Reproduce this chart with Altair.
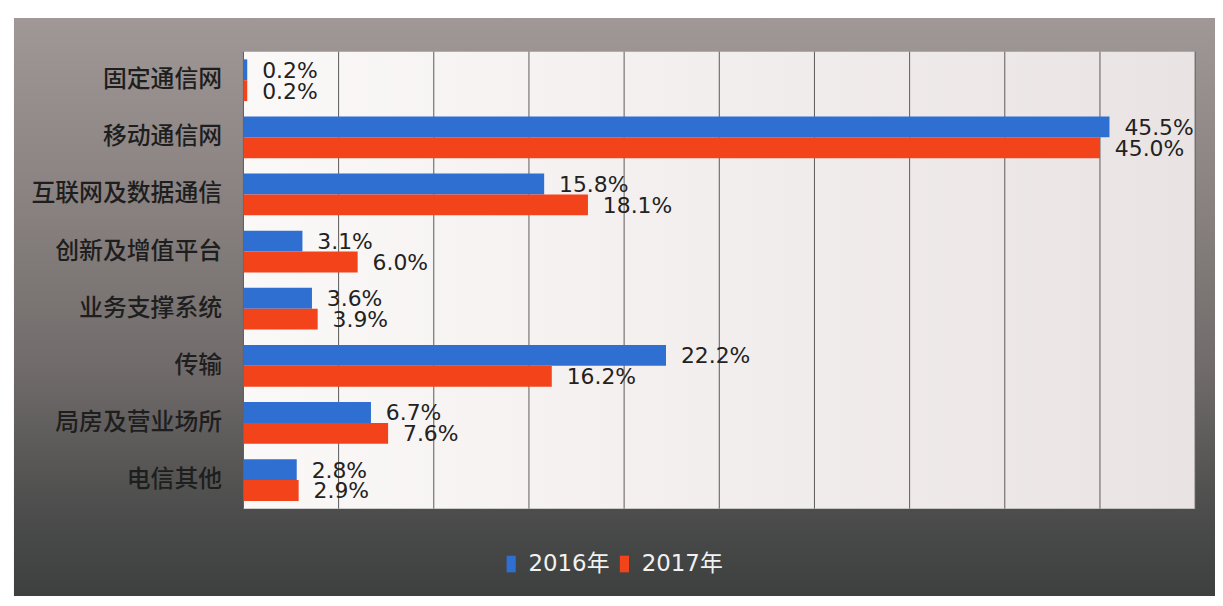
import altair as alt
import pandas as pd

categories = ["固定通信网", "移动通信网", "互联网及数据通信", "创新及增值平台",
              "业务支撑系统", "传输", "局房及营业场所", "电信其他"]
years = ["2016年", "2017年"]
values_2016 = [0.2, 45.5, 15.8, 3.1, 3.6, 22.2, 6.7, 2.8]
values_2017 = [0.2, 45.0, 18.1, 6.0, 3.9, 16.2, 7.6, 2.9]
grid_ticks = [0, 5, 10, 15, 20, 25, 30, 35, 40, 45, 50]
colors = ["#2f6fd2", "#f2431b"]

rows = []
for c, v1, v2 in zip(categories, values_2016, values_2017):
    rows.append({"category": c, "year": years[0], "value": v1, "label": f"{v1:.1f}%"})
    rows.append({"category": c, "year": years[1], "value": v2, "label": f"{v2:.1f}%"})
df = pd.DataFrame(rows)
grid_df = pd.DataFrame({"t": grid_ticks})
one = pd.DataFrame({"a": [0]})

W, H = 958, 460

xscale = alt.Scale(domain=[0, 50], nice=False, zero=True)
yscale = alt.Scale(domain=categories, paddingInner=0.27, paddingOuter=0.135)

outer_bg = alt.Chart(one).mark_rect(
    color=alt.Gradient(
        gradient="linear", x1=0, x2=0, y1=0, y2=1,
        stops=[alt.GradientStop(color="#a09896", offset=0),
               alt.GradientStop(color="#8a8382", offset=0.3),
               alt.GradientStop(color="#716c6b", offset=0.6),
               alt.GradientStop(color="#4c4d4c", offset=0.85),
               alt.GradientStop(color="#3d403f", offset=1)]),
).encode(x=alt.value(-231), x2=alt.value(W + 20), y=alt.value(-34), y2=alt.value(H + 88))

plot_bg = alt.Chart(one).mark_rect(
    color=alt.Gradient(
        gradient="linear", x1=0, x2=1, y1=0, y2=0,
        stops=[alt.GradientStop(color="#fbf8f8", offset=0),
               alt.GradientStop(color="#f1ecec", offset=0.6),
               alt.GradientStop(color="#e9e4e3", offset=1)]),
).encode(x=alt.value(0), x2=alt.value(W), y=alt.value(0), y2=alt.value(H))

grid = alt.Chart(grid_df).mark_rule(color="#5c5a5a", strokeWidth=1).encode(
    x=alt.X("t:Q", scale=xscale, axis=None),
    y=alt.value(0), y2=alt.value(H),
)

bars = alt.Chart(df).mark_bar().encode(
    y=alt.Y("category:N", scale=yscale, sort=categories,
            axis=alt.Axis(title=None, ticks=False, domain=False, grid=False,
                          labelFont="Noto Sans CJK SC", labelFontSize=24,
                          labelFontWeight=500, labelLimit=300,
                          labelColor="#1e1e1e", labelPadding=22, zindex=1)),
    yOffset=alt.YOffset("year:N", sort=years),
    x=alt.X("value:Q", scale=xscale, axis=None),
    color=alt.Color("year:N", sort=years,
                    scale=alt.Scale(domain=years, range=colors),
                    legend=alt.Legend(title=None, orient="none", direction="horizontal",
                                      legendX=258, legendY=504,
                                      symbolType="M-0.55,-1L0.55,-1L0.55,1L-0.55,1Z",
                                      symbolSize=280, symbolStrokeWidth=0,
                                      labelFont="DejaVu Sans, Noto Sans CJK SC",
                                      labelFontSize=23, labelColor="#f2f2f2",
                                      labelOffset=6, columnPadding=3, zindex=1)),
)

labels = alt.Chart(df).mark_text(
    align="left", baseline="middle", dx=15, dy=1,
    font="DejaVu Sans", fontSize=22, color="#222222",
).encode(
    y=alt.Y("category:N", scale=yscale, sort=categories),
    yOffset=alt.YOffset("year:N", sort=years),
    x=alt.X("value:Q", scale=xscale),
    text="label:N",
)

chart = alt.layer(outer_bg, plot_bg, grid, bars, labels).properties(
    width=W, height=H,
    padding={"left": 6, "top": 8, "right": 0, "bottom": 0},
).configure_view(stroke=None).configure(background="white")

chart.save("out.html", embed_options={"renderer": "svg", "actions": False})
